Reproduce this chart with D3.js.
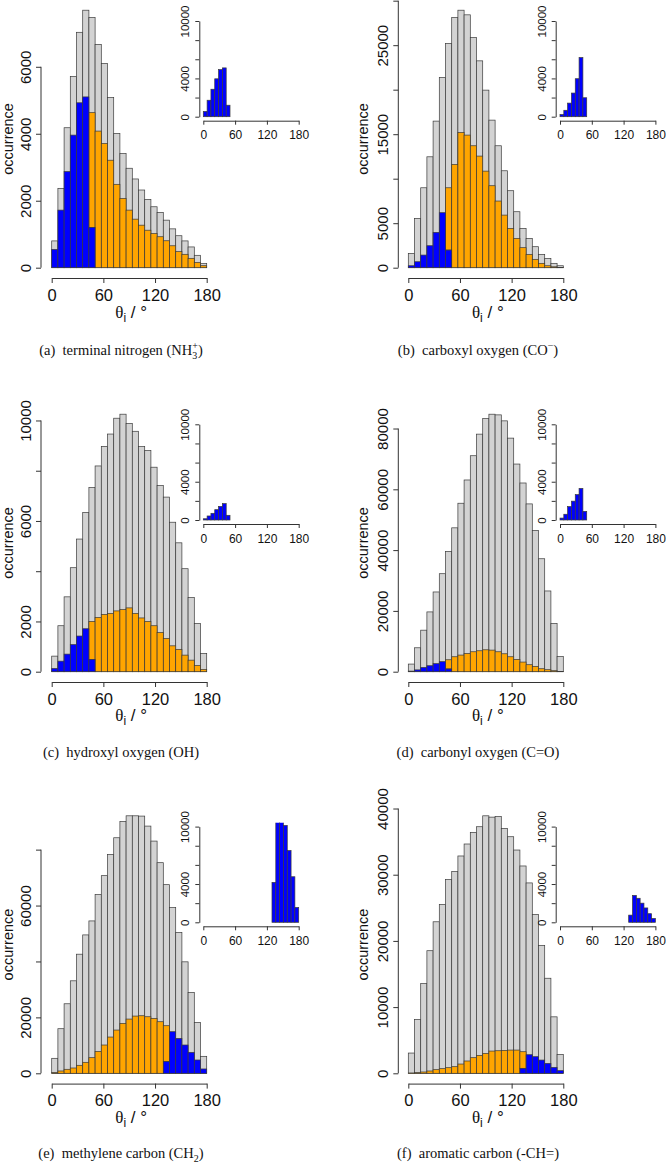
<!DOCTYPE html>
<html><head><meta charset="utf-8">
<script src="https://cdn.jsdelivr.net/npm/d3@7"></script>
<style>body{margin:0;background:#fff}</style>
</head><body><svg id="c" width="666" height="1166"></svg>
<script>
// ---- data ----
const binStart = [0,7.2,14.4,21.6,28.8,36,43.2,50.4,57.6,64.8,72,79.2,86.4,93.6,100.8,108,115.2,122.4,129.6,136.8,144,151.2,158.4,165.6,172.8];
const binWidth = 7.2;
const angleTicks = [0,60,120,180];
const angleLabels = ["0","60","120","180"];

const grayA = [800,2370,4180,5710,7030,7690,7470,6670,6100,5080,4010,3410,2970,2650,2320,2040,1820,1650,1420,1160,955,800,620,370,130];
const blueA = [547,1720,2870,3960,4925,5100,1200,0,0,0,0,0,0,0,0,0,0,0,0,0,0,0,0,0,0];
const orangeA = [0,0,0,0,0,0,3430,4080,3710,3210,2490,2070,1720,1450,1270,1120,1020,925,805,655,480,400,280,160,60];

const grayB = [1610,5540,8980,12460,16470,21370,25190,28110,28930,28410,25860,23240,19950,16580,13700,10890,8650,6290,4420,3290,2360,1500,1050,490,220];
const blueB = [220,670,1420,2470,3970,6180,1980,0,0,0,0,0,0,0,0,0,0,0,0,0,0,0,0,0,0];
const orangeB = [0,0,0,0,0,0,7000,11600,15200,14900,13700,12540,10850,9210,7490,5910,4420,3290,2250,1500,940,490,220,100,40];

const grayC = [620,1830,2980,4140,5280,6340,7330,8190,8970,9460,10090,10250,9880,9570,8960,8800,8140,7410,6950,5950,5130,4100,2950,1920,730];
const blueC = [130,420,700,1080,1420,1710,490,0,0,0,0,0,0,0,0,0,0,0,0,0,0,0,0,0,0];
const orangeC = [0,0,0,0,0,0,1510,2160,2280,2320,2420,2470,2540,2320,2140,2000,1830,1560,1320,1030,890,660,460,250,90];

const grayD = [2510,7870,13660,19670,26230,32240,39570,47330,55420,63070,71050,78150,83290,84710,84490,82520,76840,68310,62080,55200,46450,37160,26560,15850,5000];
const blueD = [200,600,1400,1970,2650,3300,900,0,0,0,0,0,0,0,0,0,0,0,0,0,0,0,0,0,0];
const orangeD = [0,0,0,0,0,0,3030,4920,5470,6010,6560,6890,7210,7100,6560,5900,4920,4040,3170,2300,1750,980,660,330,110];

const grayE = [5360,15950,24870,33080,42600,49500,54500,63900,70690,78300,84250,90080,92100,92100,92000,88420,83060,75330,67470,59260,50340,39870,28920,18210,6070];
const blueE = [0,0,0,0,0,0,0,0,0,0,0,0,0,0,0,0,0,0,4170,14880,12500,10120,7500,4760,1550];
const orangeE = [240,830,1430,1900,2860,3930,5590,7850,10120,12970,15470,17850,19400,20470,20590,20230,19640,18450,12850,0,0,0,0,0,0];

const grayF = [3060,8130,13550,18520,22890,25500,29270,30470,32830,34640,36400,37250,38900,38700,38800,37000,35740,33730,31320,28760,24000,19330,14360,8530,2860];
const blueF = [0,0,0,0,0,0,0,0,0,0,0,0,0,0,0,0,0,0,750,2810,2510,2000,1500,900,400];
const orangeF = [50,100,200,350,550,700,850,1000,1400,1860,2360,2710,3010,3360,3410,3460,3510,3510,2510,0,0,0,0,0,0];

const yTicksA = [0,2000,4000,6000];            const yLabelsA = ["0","2000","4000","6000"];
const yTicksB = [0,5000,10000,15000,20000,25000,30000]; const yLabelsB = ["0","5000","","15000","","25000",""];
const yTicksC = [0,2000,4000,6000,8000,10000]; const yLabelsC = ["0","2000","","6000","","10000"];
const yTicksD = [0,20000,40000,60000,80000];   const yLabelsD = ["0","20000","40000","60000","80000"];
const yTicksE = [0,20000,40000,60000,80000];   const yLabelsE = ["0","20000","","60000",""];
const yTicksF = [0,10000,20000,30000,40000];   const yLabelsF = ["0","10000","20000","30000","40000"];
const insetTicks = [0,2000,4000,6000,8000,10000];
const insetLabels = ["0","","4000","","","10000"];
const insetMax = 10000;

const captions = [
  {tag:"(a)", text:"terminal nitrogen (NH", sub:"3", sup:"+", end:")"},
  {tag:"(b)", text:"carboxyl oxygen (CO", sub:"", sup:"\u2212", end:")"},
  {tag:"(c)", text:"hydroxyl oxygen (OH)"},
  {tag:"(d)", text:"carbonyl oxygen (C=O)"},
  {tag:"(e)", text:"methylene carbon (CH", sub:"2", end:")"},
  {tag:"(f)", text:"aromatic carbon (-CH=)"}
];

const panels = [
  {gray:grayA, blue:blueA, orange:orangeA, yt:yTicksA, yl:yLabelsA, cap:captions[0]},
  {gray:grayB, blue:blueB, orange:orangeB, yt:yTicksB, yl:yLabelsB, cap:captions[1]},
  {gray:grayC, blue:blueC, orange:orangeC, yt:yTicksC, yl:yLabelsC, cap:captions[2]},
  {gray:grayD, blue:blueD, orange:orangeD, yt:yTicksD, yl:yLabelsD, cap:captions[3]},
  {gray:grayE, blue:blueE, orange:orangeE, yt:yTicksE, yl:yLabelsE, cap:captions[4]},
  {gray:grayF, blue:blueF, orange:orangeF, yt:yTicksF, yl:yLabelsF, cap:captions[5]}
];

// ---- layout ----
const colAxisX = [41, 398.3];
const colX0 = [51.7, 408.3];
const plotW = 155;
const rowZero = [267.7, 671.7, 1073.3];
const plotH = 257.5;
const axisGap = 10.3;
const insAxisX = [199.3, 555.7];
const insX0 = [203.3, 560];
const insW = 95.4;
const insZero = [116.7, 520, 922.3];
const insH = 95.7;
const capBase = [355, 757, 1158];
const xlabBase = [318, 721, 1123];
const capCenter = [121, 478];
const ylabBase = [13, 368];

const svg = d3.select("#c");
svg.append("rect").attr("width",666).attr("height",1166).attr("fill","#fff");
const defs = svg.append("defs");
const STROKE = "#3a3a3a";
const AX = "#333";
const SANS = "'Liberation Sans', Arial, Helvetica, sans-serif";
const SERIF = "'Liberation Serif', 'Times New Roman', serif";

function drawBars(g, x, y, vals, base, fill) {
  g.selectAll(null).data(binStart).enter().append("rect")
    .attr("x", d => x(d))
    .attr("width", d => x(d + binWidth) - x(d))
    .attr("y", (d,i) => y((base ? base[i] : 0) + vals[i]))
    .attr("height", (d,i) => y(base ? base[i] : 0) - y((base ? base[i] : 0) + vals[i]))
    .attr("fill", fill).attr("stroke", STROKE).attr("stroke-width", 0.7);
}

function styleAxis(g) {
  g.selectAll(".tick line").attr("stroke", AX);
  g.selectAll("path.domain").attr("stroke", AX);
}

panels.forEach((p, k) => {
  const col = k % 2, row = Math.floor(k / 2);
  const x = d3.scaleLinear().domain([0,180]).range([colX0[col], colX0[col] + plotW]);
  const y = d3.scaleLinear().domain([0, d3.max(p.gray)]).range([rowZero[row], rowZero[row] - plotH]);
  const g = svg.append("g");

  drawBars(g, x, y, p.gray, null, "#d3d3d3");
  drawBars(g, x, y, p.orange, p.blue, "#ffa500");
  drawBars(g, x, y, p.blue, null, "#0000ff");

  // y axis
  const ya = svg.append("g").attr("transform", `translate(${colAxisX[col]},0)`)
    .call(d3.axisLeft(y).tickValues(p.yt).tickFormat((d,i) => p.yl[i]).tickSize(5).tickSizeOuter(0));
  ya.select("path.domain").remove();
  ya.append("line").attr("x1",0).attr("x2",0)
    .attr("y1", y(p.yt[0])).attr("y2", y(p.yt[p.yt.length-1])).attr("stroke", AX);
  styleAxis(ya);
  ya.selectAll(".tick text").attr("x", null).attr("dy", null)
    .attr("text-anchor","middle").attr("transform","translate(-10,0) rotate(-90)")
    .attr("font-family", SANS).attr("font-size", 15).attr("fill","#111");

  // x axis
  const xa = svg.append("g").attr("transform", `translate(0,${rowZero[row] + axisGap})`)
    .call(d3.axisBottom(x).tickValues(angleTicks).tickFormat((d,i) => angleLabels[i]).tickSize(5).tickSizeOuter(0));
  styleAxis(xa);
  xa.selectAll(".tick text").attr("y", 22.5).attr("dy", null)
    .attr("font-family", SANS).attr("font-size", 16.5).attr("fill","#111");

  // y label
  svg.append("text")
    .attr("transform", `translate(${ylabBase[col]},${rowZero[row] + axisGap - (plotH + 2*axisGap)/2}) rotate(-90)`)
    .attr("text-anchor","middle").attr("font-family", SANS).attr("font-size", 14.5).attr("fill","#111")
    .text("occurrence");

  // x label
  const xl = svg.append("text").attr("x", (x(0)+x(180))/2 + 2).attr("y", xlabBase[row])
    .attr("text-anchor","middle").attr("font-size", 17).attr("fill","#111");
  xl.append("tspan").attr("font-family", SERIF).text("\u03b8");
  xl.append("tspan").attr("font-family", SANS).attr("font-size", 12).attr("dy", 3.5).text("i");
  xl.append("tspan").attr("font-family", SANS).attr("dy", -3.5).text(" / \u00b0");

  // caption
  const c = p.cap;
  const ct = svg.append("text").attr("x", capCenter[col]).attr("y", capBase[row])
    .attr("text-anchor","middle").attr("font-family", SERIF).attr("font-size", 14.5).attr("fill","#111");
  ct.append("tspan").text(c.tag + "\u2002" + c.text);
  if (c.sub !== undefined || c.sup !== undefined) {
    if (c.sub) ct.append("tspan").attr("font-size", 10).attr("dy", 3.5).text(c.sub);
    if (c.sup) {
      const dx = c.sub ? -5 : 0;
      ct.append("tspan").attr("font-size", 10).attr("dx", dx).attr("dy", c.sub ? -10 : -6).text(c.sup);
      ct.append("tspan").attr("dy", c.sub ? 6.5 : 6).text(c.end);
    } else {
      ct.append("tspan").attr("dy", -3.5).text(c.end);
    }
  }

  // inset
  const ix = d3.scaleLinear().domain([0,180]).range([insX0[col], insX0[col] + insW]);
  const iy = d3.scaleLinear().domain([0, insetMax]).range([insZero[row], insZero[row] - insH]);
  const clipId = "clip" + k;
  defs.append("clipPath").attr("id", clipId).append("rect")
    .attr("x", ix(0) - 5).attr("width", insW + 10)
    .attr("y", iy(insetMax * 1.04)).attr("height", iy(-insetMax * 0.04) - iy(insetMax * 1.04));
  const ig = svg.append("g").attr("clip-path", `url(#${clipId})`);
  drawBars(ig, ix, iy, p.blue, null, "#0000ff");

  const iya = svg.append("g").attr("transform", `translate(${insAxisX[col]},0)`)
    .call(d3.axisLeft(iy).tickValues(insetTicks).tickFormat((d,i) => insetLabels[i]).tickSize(4).tickSizeOuter(0));
  styleAxis(iya);
  iya.selectAll(".tick text").attr("x", null).attr("dy", null)
    .attr("text-anchor","middle").attr("transform","translate(-10,0) rotate(-90)")
    .attr("font-family", SANS).attr("font-size", 11.5).attr("fill","#111");
  const ixa = svg.append("g").attr("transform", `translate(0,${insZero[row] + 4})`)
    .call(d3.axisBottom(ix).tickValues(angleTicks).tickFormat((d,i) => angleLabels[i]).tickSize(4).tickSizeOuter(0));
  styleAxis(ixa);
  ixa.selectAll(".tick text").attr("y", 18.5).attr("dy", null)
    .attr("font-family", SANS).attr("font-size", 12).attr("fill","#111");
});
</script></body></html>
